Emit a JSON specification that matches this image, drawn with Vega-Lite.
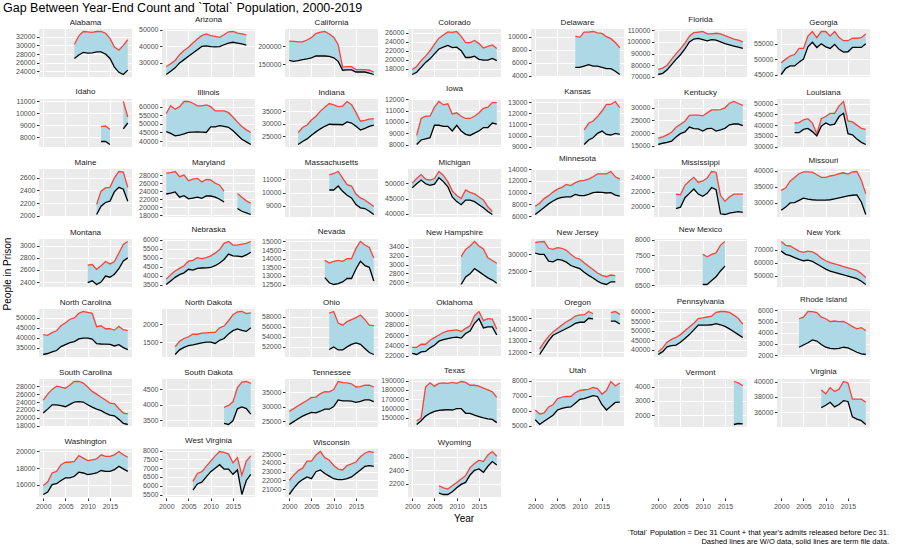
{
"$schema": "https://vega.github.io/schema/vega-lite/v6.json",
"padding": {"left": 3, "top": 2, "right": 3, "bottom": 2},
"background": "white",
"title": {"text": "Gap Between Year-End Count and `Total` Population, 2000-2019", "anchor": "start", "fontSize": 12.5, "fontWeight": "normal", "font": "Liberation Sans", "color": "#000000", "offset": 1},
"config": {
  "font": "Liberation Sans",
  "view": {"fill": "#EBEBEB", "stroke": null},
  "axis": {"labelFontSize": 7, "labelColor": "#4D4D4D", "tickColor": "#333333", "tickSize": 2.5, "domain": false, "gridColor": "#FFFFFF", "gridWidth": 1, "labelFont": "Liberation Sans", "labelPadding": 1.5}
},
"data": {"values": [
{"s":"Alabama","y":2007,"t":30200,"c":27000},{"s":"Alabama","y":2008,"t":32200,"c":27800},{"s":"Alabama","y":2009,"t":33200,"c":28400},{"s":"Alabama","y":2010,"t":33100,"c":28200},{"s":"Alabama","y":2011,"t":33000,"c":28300},{"s":"Alabama","y":2012,"t":33200,"c":28500},{"s":"Alabama","y":2013,"t":33200,"c":28500},{"s":"Alabama","y":2014,"t":32800,"c":28000},{"s":"Alabama","y":2015,"t":31600,"c":27000},{"s":"Alabama","y":2016,"t":29600,"c":25000},{"s":"Alabama","y":2017,"t":28900,"c":23800},{"s":"Alabama","y":2018,"t":30000,"c":23300},{"s":"Alabama","y":2019,"t":31300,"c":24300},
{"s":"Arizona","y":2000,"t":27800,"c":23000},{"s":"Arizona","y":2001,"t":29500,"c":25000},{"s":"Arizona","y":2002,"t":31500,"c":27000},{"s":"Arizona","y":2003,"t":35000,"c":30000},{"s":"Arizona","y":2004,"t":37500,"c":32000},{"s":"Arizona","y":2005,"t":39500,"c":34000},{"s":"Arizona","y":2006,"t":42000,"c":36000},{"s":"Arizona","y":2007,"t":44500,"c":38000},{"s":"Arizona","y":2008,"t":46500,"c":40000},{"s":"Arizona","y":2009,"t":47500,"c":40300},{"s":"Arizona","y":2010,"t":46500,"c":39800},{"s":"Arizona","y":2011,"t":46000,"c":39700},{"s":"Arizona","y":2012,"t":45500,"c":39800},{"s":"Arizona","y":2013,"t":47000,"c":41000},{"s":"Arizona","y":2014,"t":48800,"c":42000},{"s":"Arizona","y":2015,"t":49000,"c":42500},{"s":"Arizona","y":2016,"t":48000,"c":42000},{"s":"Arizona","y":2017,"t":47500,"c":41500},{"s":"Arizona","y":2018,"t":47000,"c":40800},
{"s":"California","y":2000,"t":215000,"c":161000},{"s":"California","y":2001,"t":214000,"c":158000},{"s":"California","y":2002,"t":213000,"c":160000},{"s":"California","y":2003,"t":213000,"c":163000},{"s":"California","y":2004,"t":218000,"c":165000},{"s":"California","y":2005,"t":225000,"c":168000},{"s":"California","y":2006,"t":236000,"c":173000},{"s":"California","y":2007,"t":240000,"c":173000},{"s":"California","y":2008,"t":242000,"c":173000},{"s":"California","y":2009,"t":235000,"c":172000},{"s":"California","y":2010,"t":226000,"c":168000},{"s":"California","y":2011,"t":205000,"c":158000},{"s":"California","y":2012,"t":142000,"c":133000},{"s":"California","y":2013,"t":143000,"c":134000},{"s":"California","y":2014,"t":143000,"c":134000},{"s":"California","y":2015,"t":135000,"c":128000},{"s":"California","y":2016,"t":135000,"c":128000},{"s":"California","y":2017,"t":135000,"c":128000},{"s":"California","y":2018,"t":133000,"c":125000},{"s":"California","y":2019,"t":128000,"c":121000},
{"s":"Colorado","y":2000,"t":17800,"c":16700},{"s":"Colorado","y":2001,"t":18500,"c":17200},{"s":"Colorado","y":2002,"t":19800,"c":18300},{"s":"Colorado","y":2003,"t":20800,"c":19400},{"s":"Colorado","y":2004,"t":22000,"c":20200},{"s":"Colorado","y":2005,"t":23500,"c":21300},{"s":"Colorado","y":2006,"t":24800,"c":22400},{"s":"Colorado","y":2007,"t":25500,"c":22800},{"s":"Colorado","y":2008,"t":26200,"c":23200},{"s":"Colorado","y":2009,"t":26100,"c":22700},{"s":"Colorado","y":2010,"t":26300,"c":22800},{"s":"Colorado","y":2011,"t":25200,"c":22000},{"s":"Colorado","y":2012,"t":23800,"c":20500},{"s":"Colorado","y":2013,"t":23800,"c":20500},{"s":"Colorado","y":2014,"t":24300,"c":20800},{"s":"Colorado","y":2015,"t":23600,"c":20100},{"s":"Colorado","y":2016,"t":22600,"c":19900},{"s":"Colorado","y":2017,"t":23000,"c":19900},{"s":"Colorado","y":2018,"t":23300,"c":20300},{"s":"Colorado","y":2019,"t":22500,"c":19800},
{"s":"Delaware","y":2009,"t":10100,"c":5300},{"s":"Delaware","y":2010,"t":9900,"c":5300},{"s":"Delaware","y":2011,"t":10700,"c":5500},{"s":"Delaware","y":2012,"t":10700,"c":5700},{"s":"Delaware","y":2013,"t":10800,"c":5500},{"s":"Delaware","y":2014,"t":10600,"c":5500},{"s":"Delaware","y":2015,"t":10500,"c":5300},{"s":"Delaware","y":2016,"t":10000,"c":5100},{"s":"Delaware","y":2017,"t":9700,"c":5100},{"s":"Delaware","y":2018,"t":9100,"c":4700},{"s":"Delaware","y":2019,"t":8300,"c":4200},
{"s":"Florida","y":2000,"t":76500,"c":72000},{"s":"Florida","y":2001,"t":77500,"c":73000},{"s":"Florida","y":2002,"t":80000,"c":76000},{"s":"Florida","y":2003,"t":85000,"c":80500},{"s":"Florida","y":2004,"t":90000,"c":85000},{"s":"Florida","y":2005,"t":94000,"c":89000},{"s":"Florida","y":2006,"t":99000,"c":94000},{"s":"Florida","y":2007,"t":105000,"c":100000},{"s":"Florida","y":2008,"t":108000,"c":102500},{"s":"Florida","y":2009,"t":108500,"c":103000},{"s":"Florida","y":2010,"t":109000,"c":102000},{"s":"Florida","y":2011,"t":107000,"c":101000},{"s":"Florida","y":2012,"t":107000,"c":102000},{"s":"Florida","y":2013,"t":107500,"c":101500},{"s":"Florida","y":2014,"t":107000,"c":100000},{"s":"Florida","y":2015,"t":105500,"c":98500},{"s":"Florida","y":2016,"t":104000,"c":97500},{"s":"Florida","y":2017,"t":102500,"c":96500},{"s":"Florida","y":2018,"t":101500,"c":95500},{"s":"Florida","y":2019,"t":100000,"c":94500},
{"s":"Georgia","y":2000,"t":48800,"c":45000},{"s":"Georgia","y":2001,"t":50000,"c":47000},{"s":"Georgia","y":2002,"t":51000,"c":47800},{"s":"Georgia","y":2003,"t":51500,"c":47800},{"s":"Georgia","y":2004,"t":53500,"c":49000},{"s":"Georgia","y":2005,"t":53500,"c":50000},{"s":"Georgia","y":2006,"t":57500,"c":54000},{"s":"Georgia","y":2007,"t":59000,"c":55500},{"s":"Georgia","y":2008,"t":57000,"c":53800},{"s":"Georgia","y":2009,"t":59000,"c":55000},{"s":"Georgia","y":2010,"t":59000,"c":54000},{"s":"Georgia","y":2011,"t":57500,"c":53500},{"s":"Georgia","y":2012,"t":59000,"c":54800},{"s":"Georgia","y":2013,"t":57000,"c":53200},{"s":"Georgia","y":2014,"t":56000,"c":52300},{"s":"Georgia","y":2015,"t":56000,"c":52400},{"s":"Georgia","y":2016,"t":56800,"c":53800},{"s":"Georgia","y":2017,"t":56800,"c":53800},{"s":"Georgia","y":2018,"t":57000,"c":53800},{"s":"Georgia","y":2019,"t":58200,"c":55000},
{"s":"Idaho","y":2013,"t":8900,"c":7650},{"s":"Idaho","y":2014,"t":8950,"c":7650},{"s":"Idaho","y":2015,"t":8650,"c":7400},{"s":"Idaho","y":2016,"t":null,"c":null},{"s":"Idaho","y":2017,"t":null,"c":null},{"s":"Idaho","y":2018,"t":11000,"c":8700},{"s":"Idaho","y":2019,"t":9700,"c":9200},
{"s":"Illinois","y":2000,"t":56000,"c":45500},{"s":"Illinois","y":2001,"t":60500,"c":44500},{"s":"Illinois","y":2002,"t":58500,"c":43000},{"s":"Illinois","y":2003,"t":60000,"c":43500},{"s":"Illinois","y":2004,"t":63000,"c":44200},{"s":"Illinois","y":2005,"t":63000,"c":45000},{"s":"Illinois","y":2006,"t":62000,"c":45200},{"s":"Illinois","y":2007,"t":60500,"c":45300},{"s":"Illinois","y":2008,"t":60500,"c":45200},{"s":"Illinois","y":2009,"t":61000,"c":45000},{"s":"Illinois","y":2010,"t":60000,"c":48200},{"s":"Illinois","y":2011,"t":57500,"c":48300},{"s":"Illinois","y":2012,"t":57500,"c":49000},{"s":"Illinois","y":2013,"t":57500,"c":48500},{"s":"Illinois","y":2014,"t":56500,"c":48000},{"s":"Illinois","y":2015,"t":54000,"c":46000},{"s":"Illinois","y":2016,"t":51000,"c":43500},{"s":"Illinois","y":2017,"t":48500,"c":41000},{"s":"Illinois","y":2018,"t":46500,"c":39500},{"s":"Illinois","y":2019,"t":45000,"c":38000},
{"s":"Indiana","y":2002,"t":26500,"c":21800},{"s":"Indiana","y":2003,"t":28500,"c":23000},{"s":"Indiana","y":2004,"t":29500,"c":24000},{"s":"Indiana","y":2005,"t":31500,"c":25500},{"s":"Indiana","y":2006,"t":33000,"c":26800},{"s":"Indiana","y":2007,"t":35000,"c":28000},{"s":"Indiana","y":2008,"t":36500,"c":29000},{"s":"Indiana","y":2009,"t":38000,"c":29800},{"s":"Indiana","y":2010,"t":37500,"c":29700},{"s":"Indiana","y":2011,"t":36800,"c":29700},{"s":"Indiana","y":2012,"t":37000,"c":29600},{"s":"Indiana","y":2013,"t":38800,"c":30700},{"s":"Indiana","y":2014,"t":37500,"c":30300},{"s":"Indiana","y":2015,"t":34500,"c":29000},{"s":"Indiana","y":2016,"t":31000,"c":27500},{"s":"Indiana","y":2017,"t":31300,"c":28200},{"s":"Indiana","y":2018,"t":31800,"c":29000},{"s":"Indiana","y":2019,"t":32000,"c":29500},
{"s":"Iowa","y":2001,"t":8800,"c":8000},{"s":"Iowa","y":2002,"t":10300,"c":8400},{"s":"Iowa","y":2003,"t":10500,"c":8500},{"s":"Iowa","y":2004,"t":10500,"c":8600},{"s":"Iowa","y":2005,"t":11300,"c":9700},{"s":"Iowa","y":2006,"t":11800,"c":9700},{"s":"Iowa","y":2007,"t":11500,"c":9600},{"s":"Iowa","y":2008,"t":11600,"c":9600},{"s":"Iowa","y":2009,"t":10700,"c":9200},{"s":"Iowa","y":2010,"t":10800,"c":9700},{"s":"Iowa","y":2011,"t":10500,"c":9200},{"s":"Iowa","y":2012,"t":10300,"c":8900},{"s":"Iowa","y":2013,"t":10300,"c":8800},{"s":"Iowa","y":2014,"t":10500,"c":9000},{"s":"Iowa","y":2015,"t":10800,"c":9200},{"s":"Iowa","y":2016,"t":11200,"c":9500},{"s":"Iowa","y":2017,"t":11300,"c":9500},{"s":"Iowa","y":2018,"t":11700,"c":9900},{"s":"Iowa","y":2019,"t":11700,"c":9800},
{"s":"Kansas","y":2011,"t":10500,"c":9200},{"s":"Kansas","y":2012,"t":11100,"c":9600},{"s":"Kansas","y":2013,"t":11300,"c":9800},{"s":"Kansas","y":2014,"t":11700,"c":10200},{"s":"Kansas","y":2015,"t":12200,"c":10400},{"s":"Kansas","y":2016,"t":12800,"c":10100},{"s":"Kansas","y":2017,"t":12800,"c":10050},{"s":"Kansas","y":2018,"t":13050,"c":10200},{"s":"Kansas","y":2019,"t":12500,"c":10100},
{"s":"Kentucky","y":2000,"t":18000,"c":15500},{"s":"Kentucky","y":2001,"t":18500,"c":16000},{"s":"Kentucky","y":2002,"t":19300,"c":16300},{"s":"Kentucky","y":2003,"t":20300,"c":16800},{"s":"Kentucky","y":2004,"t":22300,"c":18500},{"s":"Kentucky","y":2005,"t":23500,"c":19800},{"s":"Kentucky","y":2006,"t":24700,"c":20500},{"s":"Kentucky","y":2007,"t":27000,"c":22400},{"s":"Kentucky","y":2008,"t":27100,"c":21800},{"s":"Kentucky","y":2009,"t":27100,"c":21700},{"s":"Kentucky","y":2010,"t":26800,"c":20800},{"s":"Kentucky","y":2011,"t":28000,"c":21800},{"s":"Kentucky","y":2012,"t":29200,"c":21900},{"s":"Kentucky","y":2013,"t":29200,"c":20800},{"s":"Kentucky","y":2014,"t":29300,"c":21300},{"s":"Kentucky","y":2015,"t":30000,"c":21900},{"s":"Kentucky","y":2016,"t":31800,"c":23300},{"s":"Kentucky","y":2017,"t":32500,"c":23600},{"s":"Kentucky","y":2018,"t":31700,"c":23600},{"s":"Kentucky","y":2019,"t":31000,"c":23000},
{"s":"Louisiana","y":2003,"t":41000,"c":36500},{"s":"Louisiana","y":2004,"t":41200,"c":36500},{"s":"Louisiana","y":2005,"t":42500,"c":38000},{"s":"Louisiana","y":2006,"t":43000,"c":38500},{"s":"Louisiana","y":2007,"t":41000,"c":37000},{"s":"Louisiana","y":2008,"t":36000,"c":35000},{"s":"Louisiana","y":2009,"t":43000,"c":39500},{"s":"Louisiana","y":2010,"t":44000,"c":41000},{"s":"Louisiana","y":2011,"t":45500,"c":40000},{"s":"Louisiana","y":2012,"t":45500,"c":40500},{"s":"Louisiana","y":2013,"t":49000,"c":44000},{"s":"Louisiana","y":2014,"t":51000,"c":45500},{"s":"Louisiana","y":2015,"t":42000,"c":36000},{"s":"Louisiana","y":2016,"t":41500,"c":35500},{"s":"Louisiana","y":2017,"t":40000,"c":33500},{"s":"Louisiana","y":2018,"t":38500,"c":32000},{"s":"Louisiana","y":2019,"t":38000,"c":31000},
{"s":"Maine","y":2012,"t":2180,"c":2020},{"s":"Maine","y":2013,"t":2390,"c":2150},{"s":"Maine","y":2014,"t":2440,"c":2210},{"s":"Maine","y":2015,"t":2450,"c":2230},{"s":"Maine","y":2016,"t":2600,"c":2380},{"s":"Maine","y":2017,"t":2700,"c":2450},{"s":"Maine","y":2018,"t":2690,"c":2420},{"s":"Maine","y":2019,"t":2450,"c":2230},
{"s":"Maryland","y":2000,"t":28500,"c":23300},{"s":"Maryland","y":2001,"t":28600,"c":23500},{"s":"Maryland","y":2002,"t":28900,"c":23800},{"s":"Maryland","y":2003,"t":27600,"c":22500},{"s":"Maryland","y":2004,"t":28000,"c":22900},{"s":"Maryland","y":2005,"t":26600,"c":22100},{"s":"Maryland","y":2006,"t":27000,"c":22300},{"s":"Maryland","y":2007,"t":27200,"c":22500},{"s":"Maryland","y":2008,"t":26300,"c":22200},{"s":"Maryland","y":2009,"t":26900,"c":22800},{"s":"Maryland","y":2010,"t":26800,"c":22800},{"s":"Maryland","y":2011,"t":26000,"c":22500},{"s":"Maryland","y":2012,"t":25500,"c":22000},{"s":"Maryland","y":2013,"t":24000,"c":21300},{"s":"Maryland","y":2014,"t":null,"c":null},{"s":"Maryland","y":2015,"t":null,"c":null},{"s":"Maryland","y":2016,"t":23400,"c":19700},{"s":"Maryland","y":2017,"t":22500,"c":19000},{"s":"Maryland","y":2018,"t":21600,"c":18600},{"s":"Maryland","y":2019,"t":21000,"c":18200},
{"s":"Massachusetts","y":2009,"t":11350,"c":10200},{"s":"Massachusetts","y":2010,"t":11450,"c":10200},{"s":"Massachusetts","y":2011,"t":11600,"c":10500},{"s":"Massachusetts","y":2012,"t":11100,"c":10100},{"s":"Massachusetts","y":2013,"t":10600,"c":9800},{"s":"Massachusetts","y":2014,"t":10500,"c":9600},{"s":"Massachusetts","y":2015,"t":9900,"c":9100},{"s":"Massachusetts","y":2016,"t":9600,"c":8850},{"s":"Massachusetts","y":2017,"t":9450,"c":8800},{"s":"Massachusetts","y":2018,"t":9200,"c":8600},{"s":"Massachusetts","y":2019,"t":8950,"c":8350},
{"s":"Michigan","y":2000,"t":50000,"c":48500},{"s":"Michigan","y":2001,"t":51500,"c":49800},{"s":"Michigan","y":2002,"t":52800,"c":51000},{"s":"Michigan","y":2003,"t":51300,"c":49800},{"s":"Michigan","y":2004,"t":51000,"c":49300},{"s":"Michigan","y":2005,"t":51500,"c":49700},{"s":"Michigan","y":2006,"t":53800,"c":51800},{"s":"Michigan","y":2007,"t":52500,"c":50500},{"s":"Michigan","y":2008,"t":50500,"c":48800},{"s":"Michigan","y":2009,"t":47500,"c":45500},{"s":"Michigan","y":2010,"t":46000,"c":44000},{"s":"Michigan","y":2011,"t":45000,"c":43000},{"s":"Michigan","y":2012,"t":47800,"c":44500},{"s":"Michigan","y":2013,"t":47000,"c":44500},{"s":"Michigan","y":2014,"t":46500,"c":44000},{"s":"Michigan","y":2015,"t":45500,"c":43000},{"s":"Michigan","y":2016,"t":44500,"c":42000},{"s":"Michigan","y":2017,"t":42300,"c":40800},{"s":"Michigan","y":2018,"t":40800,"c":39800},
{"s":"Minnesota","y":2000,"t":7700,"c":6300},{"s":"Minnesota","y":2001,"t":8200,"c":6900},{"s":"Minnesota","y":2002,"t":9000,"c":7500},{"s":"Minnesota","y":2003,"t":9500,"c":8100},{"s":"Minnesota","y":2004,"t":10100,"c":8600},{"s":"Minnesota","y":2005,"t":10600,"c":9000},{"s":"Minnesota","y":2006,"t":10900,"c":9200},{"s":"Minnesota","y":2007,"t":11400,"c":9300},{"s":"Minnesota","y":2008,"t":11200,"c":9300},{"s":"Minnesota","y":2009,"t":11700,"c":9700},{"s":"Minnesota","y":2010,"t":12000,"c":9500},{"s":"Minnesota","y":2011,"t":12100,"c":9500},{"s":"Minnesota","y":2012,"t":12300,"c":9700},{"s":"Minnesota","y":2013,"t":12700,"c":10000},{"s":"Minnesota","y":2014,"t":13200,"c":10100},{"s":"Minnesota","y":2015,"t":13200,"c":10050},{"s":"Minnesota","y":2016,"t":13200,"c":9950},{"s":"Minnesota","y":2017,"t":13600,"c":10000},{"s":"Minnesota","y":2018,"t":12700,"c":9600},{"s":"Minnesota","y":2019,"t":12300,"c":9400},
{"s":"Mississippi","y":2004,"t":21700,"c":19700},{"s":"Mississippi","y":2005,"t":21600,"c":19900},{"s":"Mississippi","y":2006,"t":22900,"c":21200},{"s":"Mississippi","y":2007,"t":23500,"c":21800},{"s":"Mississippi","y":2008,"t":24000,"c":22400},{"s":"Mississippi","y":2009,"t":23300,"c":21700},{"s":"Mississippi","y":2010,"t":23500,"c":21400},{"s":"Mississippi","y":2011,"t":23900,"c":21800},{"s":"Mississippi","y":2012,"t":24800,"c":22600},{"s":"Mississippi","y":2013,"t":24700,"c":22300},{"s":"Mississippi","y":2014,"t":21500,"c":19000},{"s":"Mississippi","y":2015,"t":20700,"c":18900},{"s":"Mississippi","y":2016,"t":21300,"c":19100},{"s":"Mississippi","y":2017,"t":21700,"c":19200},{"s":"Mississippi","y":2018,"t":21700,"c":19300},{"s":"Mississippi","y":2019,"t":21700,"c":19200},
{"s":"Missouri","y":2000,"t":33800,"c":27600},{"s":"Missouri","y":2001,"t":34600,"c":28600},{"s":"Missouri","y":2002,"t":36700,"c":29900},{"s":"Missouri","y":2003,"t":37800,"c":30000},{"s":"Missouri","y":2004,"t":39000,"c":30700},{"s":"Missouri","y":2005,"t":39600,"c":31400},{"s":"Missouri","y":2006,"t":39600,"c":31100},{"s":"Missouri","y":2007,"t":39500,"c":30900},{"s":"Missouri","y":2008,"t":38700,"c":30800},{"s":"Missouri","y":2009,"t":37900,"c":30800},{"s":"Missouri","y":2010,"t":37900,"c":30800},{"s":"Missouri","y":2011,"t":38300,"c":30900},{"s":"Missouri","y":2012,"t":38600,"c":31200},{"s":"Missouri","y":2013,"t":39000,"c":31500},{"s":"Missouri","y":2014,"t":39300,"c":31800},{"s":"Missouri","y":2015,"t":38900,"c":32100},{"s":"Missouri","y":2016,"t":39600,"c":32300},{"s":"Missouri","y":2017,"t":39700,"c":32400},{"s":"Missouri","y":2018,"t":37000,"c":30200},{"s":"Missouri","y":2019,"t":32800,"c":26300},
{"s":"Montana","y":2010,"t":2680,"c":2390},{"s":"Montana","y":2011,"t":2690,"c":2420},{"s":"Montana","y":2012,"t":2610,"c":2360},{"s":"Montana","y":2013,"t":2670,"c":2400},{"s":"Montana","y":2014,"t":2740,"c":2500},{"s":"Montana","y":2015,"t":2700,"c":2480},{"s":"Montana","y":2016,"t":2740,"c":2530},{"s":"Montana","y":2017,"t":2880,"c":2620},{"s":"Montana","y":2018,"t":3020,"c":2750},{"s":"Montana","y":2019,"t":3070,"c":2800},
{"s":"Nebraska","y":2000,"t":3800,"c":3500},{"s":"Nebraska","y":2001,"t":4050,"c":3700},{"s":"Nebraska","y":2002,"t":4250,"c":3900},{"s":"Nebraska","y":2003,"t":4400,"c":4050},{"s":"Nebraska","y":2004,"t":4550,"c":4150},{"s":"Nebraska","y":2005,"t":4800,"c":4350},{"s":"Nebraska","y":2006,"t":4850,"c":4300},{"s":"Nebraska","y":2007,"t":5000,"c":4400},{"s":"Nebraska","y":2008,"t":4950,"c":4420},{"s":"Nebraska","y":2009,"t":5000,"c":4430},{"s":"Nebraska","y":2010,"t":5100,"c":4450},{"s":"Nebraska","y":2011,"t":5250,"c":4550},{"s":"Nebraska","y":2012,"t":5450,"c":4700},{"s":"Nebraska","y":2013,"t":5800,"c":4900},{"s":"Nebraska","y":2014,"t":5900,"c":5200},{"s":"Nebraska","y":2015,"t":5700,"c":5100},{"s":"Nebraska","y":2016,"t":5700,"c":5080},{"s":"Nebraska","y":2017,"t":5750,"c":5050},{"s":"Nebraska","y":2018,"t":5800,"c":5150},{"s":"Nebraska","y":2019,"t":5900,"c":5300},
{"s":"Nevada","y":2008,"t":13900,"c":12900},{"s":"Nevada","y":2009,"t":13750,"c":12600},{"s":"Nevada","y":2010,"t":13850,"c":12500},{"s":"Nevada","y":2011,"t":13900,"c":12550},{"s":"Nevada","y":2012,"t":13850,"c":12650},{"s":"Nevada","y":2013,"t":14000,"c":12850},{"s":"Nevada","y":2014,"t":14000,"c":12850},{"s":"Nevada","y":2015,"t":14600,"c":13400},{"s":"Nevada","y":2016,"t":15000,"c":13850},{"s":"Nevada","y":2017,"t":14800,"c":13600},{"s":"Nevada","y":2018,"t":14650,"c":13500},{"s":"Nevada","y":2019,"t":14050,"c":12700},
{"s":"New Hampshire","y":2011,"t":3180,"c":2550},{"s":"New Hampshire","y":2012,"t":3340,"c":2720},{"s":"New Hampshire","y":2013,"t":3420,"c":2790},{"s":"New Hampshire","y":2014,"t":3520,"c":2910},{"s":"New Hampshire","y":2015,"t":3420,"c":2840},{"s":"New Hampshire","y":2016,"t":3350,"c":2770},{"s":"New Hampshire","y":2017,"t":3150,"c":2700},{"s":"New Hampshire","y":2018,"t":3090,"c":2650},{"s":"New Hampshire","y":2019,"t":3030,"c":2580},
{"s":"New Jersey","y":2000,"t":33500,"c":30400},{"s":"New Jersey","y":2001,"t":33700,"c":30000},{"s":"New Jersey","y":2002,"t":33800,"c":30000},{"s":"New Jersey","y":2003,"t":31800,"c":28000},{"s":"New Jersey","y":2004,"t":31500,"c":27800},{"s":"New Jersey","y":2005,"t":32000,"c":28500},{"s":"New Jersey","y":2006,"t":31800,"c":28300},{"s":"New Jersey","y":2007,"t":31200,"c":27700},{"s":"New Jersey","y":2008,"t":30000,"c":26700},{"s":"New Jersey","y":2009,"t":29000,"c":26200},{"s":"New Jersey","y":2010,"t":28600,"c":25800},{"s":"New Jersey","y":2011,"t":27500,"c":24700},{"s":"New Jersey","y":2012,"t":26500,"c":23800},{"s":"New Jersey","y":2013,"t":25500,"c":23000},{"s":"New Jersey","y":2014,"t":24500,"c":22100},{"s":"New Jersey","y":2015,"t":23800,"c":21400},{"s":"New Jersey","y":2016,"t":23400,"c":21100},{"s":"New Jersey","y":2017,"t":23900,"c":21900},{"s":"New Jersey","y":2018,"t":23700,"c":21900},
{"s":"New Mexico","y":2010,"t":7530,"c":6520},{"s":"New Mexico","y":2011,"t":7440,"c":6520},{"s":"New Mexico","y":2012,"t":7520,"c":6650},{"s":"New Mexico","y":2013,"t":7570,"c":6780},{"s":"New Mexico","y":2014,"t":7830,"c":6970},{"s":"New Mexico","y":2015,"t":7950,"c":7130},
{"s":"New York","y":2000,"t":76500,"c":69000},{"s":"New York","y":2001,"t":73500,"c":66500},{"s":"New York","y":2002,"t":73000,"c":65500},{"s":"New York","y":2003,"t":71000,"c":64000},{"s":"New York","y":2004,"t":69000,"c":62500},{"s":"New York","y":2005,"t":68000,"c":61500},{"s":"New York","y":2006,"t":69000,"c":62000},{"s":"New York","y":2007,"t":68500,"c":61000},{"s":"New York","y":2008,"t":66500,"c":59000},{"s":"New York","y":2009,"t":63500,"c":57000},{"s":"New York","y":2010,"t":61500,"c":55000},{"s":"New York","y":2011,"t":60000,"c":53500},{"s":"New York","y":2012,"t":59000,"c":52500},{"s":"New York","y":2013,"t":58000,"c":51500},{"s":"New York","y":2014,"t":57000,"c":50500},{"s":"New York","y":2015,"t":56000,"c":49500},{"s":"New York","y":2016,"t":55000,"c":48500},{"s":"New York","y":2017,"t":54000,"c":47500},{"s":"New York","y":2018,"t":51500,"c":45500},{"s":"New York","y":2019,"t":48500,"c":43000},
{"s":"North Carolina","y":2000,"t":41500,"c":31500},{"s":"North Carolina","y":2001,"t":41200,"c":32000},{"s":"North Carolina","y":2002,"t":42500,"c":32800},{"s":"North Carolina","y":2003,"t":43500,"c":33500},{"s":"North Carolina","y":2004,"t":46000,"c":35500},{"s":"North Carolina","y":2005,"t":47500,"c":36500},{"s":"North Carolina","y":2006,"t":49300,"c":37500},{"s":"North Carolina","y":2007,"t":50000,"c":38000},{"s":"North Carolina","y":2008,"t":52300,"c":39400},{"s":"North Carolina","y":2009,"t":53200,"c":39800},{"s":"North Carolina","y":2010,"t":52800,"c":39800},{"s":"North Carolina","y":2011,"t":52300,"c":39300},{"s":"North Carolina","y":2012,"t":45500,"c":37000},{"s":"North Carolina","y":2013,"t":46000,"c":36800},{"s":"North Carolina","y":2014,"t":44500,"c":36700},{"s":"North Carolina","y":2015,"t":44500,"c":36600},{"s":"North Carolina","y":2016,"t":43800,"c":35800},{"s":"North Carolina","y":2017,"t":45700,"c":36500},{"s":"North Carolina","y":2018,"t":44000,"c":35000},{"s":"North Carolina","y":2019,"t":43600,"c":34000},
{"s":"North Dakota","y":2002,"t":1370,"c":1150},{"s":"North Dakota","y":2003,"t":1520,"c":1280},{"s":"North Dakota","y":2004,"t":1600,"c":1350},{"s":"North Dakota","y":2005,"t":1650,"c":1400},{"s":"North Dakota","y":2006,"t":1720,"c":1420},{"s":"North Dakota","y":2007,"t":1720,"c":1450},{"s":"North Dakota","y":2008,"t":1750,"c":1480},{"s":"North Dakota","y":2009,"t":1760,"c":1500},{"s":"North Dakota","y":2010,"t":1770,"c":1500},{"s":"North Dakota","y":2011,"t":1770,"c":1460},{"s":"North Dakota","y":2012,"t":1900,"c":1550},{"s":"North Dakota","y":2013,"t":1950,"c":1600},{"s":"North Dakota","y":2014,"t":2100,"c":1730},{"s":"North Dakota","y":2015,"t":2270,"c":1820},{"s":"North Dakota","y":2016,"t":2350,"c":1870},{"s":"North Dakota","y":2017,"t":2360,"c":1830},{"s":"North Dakota","y":2018,"t":2300,"c":1800},{"s":"North Dakota","y":2019,"t":2320,"c":1900},
{"s":"Ohio","y":2009,"t":58700,"c":51500},{"s":"Ohio","y":2010,"t":59000,"c":52000},{"s":"Ohio","y":2011,"t":56700,"c":51400},{"s":"Ohio","y":2012,"t":56300,"c":51400},{"s":"Ohio","y":2013,"t":57000,"c":52000},{"s":"Ohio","y":2014,"t":57400,"c":52500},{"s":"Ohio","y":2015,"t":57800,"c":52800},{"s":"Ohio","y":2016,"t":58300,"c":52500},{"s":"Ohio","y":2017,"t":57400,"c":51700},{"s":"Ohio","y":2018,"t":56300,"c":50900},{"s":"Ohio","y":2019,"t":56200,"c":50500},
{"s":"Oklahoma","y":2000,"t":23600,"c":22400},{"s":"Oklahoma","y":2001,"t":23600,"c":22200},{"s":"Oklahoma","y":2002,"t":24200,"c":22700},{"s":"Oklahoma","y":2003,"t":24200,"c":22800},{"s":"Oklahoma","y":2004,"t":25000,"c":23500},{"s":"Oklahoma","y":2005,"t":25500,"c":24000},{"s":"Oklahoma","y":2006,"t":26000,"c":24800},{"s":"Oklahoma","y":2007,"t":26500,"c":25100},{"s":"Oklahoma","y":2008,"t":26800,"c":25300},{"s":"Oklahoma","y":2009,"t":26900,"c":25500},{"s":"Oklahoma","y":2010,"t":27000,"c":25600},{"s":"Oklahoma","y":2011,"t":26700,"c":25400},{"s":"Oklahoma","y":2012,"t":27300,"c":26300},{"s":"Oklahoma","y":2013,"t":27800,"c":26800},{"s":"Oklahoma","y":2014,"t":29800,"c":28300},{"s":"Oklahoma","y":2015,"t":30600,"c":29200},{"s":"Oklahoma","y":2016,"t":28800,"c":27400},{"s":"Oklahoma","y":2017,"t":29200,"c":27600},{"s":"Oklahoma","y":2018,"t":29100,"c":27600},{"s":"Oklahoma","y":2019,"t":27200,"c":26000},
{"s":"Oregon","y":2001,"t":12300,"c":11800},{"s":"Oregon","y":2002,"t":12900,"c":12400},{"s":"Oregon","y":2003,"t":13400,"c":13000},{"s":"Oregon","y":2004,"t":13800,"c":13500},{"s":"Oregon","y":2005,"t":14100,"c":13700},{"s":"Oregon","y":2006,"t":14400,"c":13900},{"s":"Oregon","y":2007,"t":14700,"c":14100},{"s":"Oregon","y":2008,"t":14900,"c":14300},{"s":"Oregon","y":2009,"t":15200,"c":14550},{"s":"Oregon","y":2010,"t":15300,"c":14650},{"s":"Oregon","y":2011,"t":15300,"c":14650},{"s":"Oregon","y":2012,"t":15600,"c":15000},{"s":"Oregon","y":2013,"t":15400,"c":14950},{"s":"Oregon","y":2014,"t":null,"c":null},{"s":"Oregon","y":2015,"t":null,"c":null},{"s":"Oregon","y":2016,"t":null,"c":null},{"s":"Oregon","y":2017,"t":15500,"c":14750},{"s":"Oregon","y":2018,"t":15600,"c":14750},{"s":"Oregon","y":2019,"t":15350,"c":14500},
{"s":"Pennsylvania","y":2000,"t":39000,"c":37500},{"s":"Pennsylvania","y":2001,"t":41000,"c":39000},{"s":"Pennsylvania","y":2002,"t":44000,"c":41500},{"s":"Pennsylvania","y":2003,"t":45500,"c":42200},{"s":"Pennsylvania","y":2004,"t":46500,"c":42500},{"s":"Pennsylvania","y":2005,"t":48000,"c":44000},{"s":"Pennsylvania","y":2006,"t":50000,"c":46000},{"s":"Pennsylvania","y":2007,"t":52000,"c":48000},{"s":"Pennsylvania","y":2008,"t":54000,"c":50500},{"s":"Pennsylvania","y":2009,"t":56500,"c":53000},{"s":"Pennsylvania","y":2010,"t":56800,"c":53000},{"s":"Pennsylvania","y":2011,"t":57300,"c":53000},{"s":"Pennsylvania","y":2012,"t":57800,"c":53200},{"s":"Pennsylvania","y":2013,"t":59800,"c":53800},{"s":"Pennsylvania","y":2014,"t":60200,"c":53200},{"s":"Pennsylvania","y":2015,"t":60200,"c":52300},{"s":"Pennsylvania","y":2016,"t":59700,"c":51000},{"s":"Pennsylvania","y":2017,"t":58300,"c":49500},{"s":"Pennsylvania","y":2018,"t":56500,"c":48000},{"s":"Pennsylvania","y":2019,"t":53500,"c":46500},
{"s":"Rhode Island","y":2004,"t":5250,"c":2700},{"s":"Rhode Island","y":2005,"t":5400,"c":2900},{"s":"Rhode Island","y":2006,"t":5900,"c":3100},{"s":"Rhode Island","y":2007,"t":5880,"c":3350},{"s":"Rhode Island","y":2008,"t":5800,"c":3250},{"s":"Rhode Island","y":2009,"t":5400,"c":2950},{"s":"Rhode Island","y":2010,"t":5250,"c":2700},{"s":"Rhode Island","y":2011,"t":5000,"c":2600},{"s":"Rhode Island","y":2012,"t":5050,"c":2550},{"s":"Rhode Island","y":2013,"t":5000,"c":2600},{"s":"Rhode Island","y":2014,"t":5020,"c":2700},{"s":"Rhode Island","y":2015,"t":4800,"c":2650},{"s":"Rhode Island","y":2016,"t":4550,"c":2450},{"s":"Rhode Island","y":2017,"t":4350,"c":2250},{"s":"Rhode Island","y":2018,"t":4450,"c":2100},{"s":"Rhode Island","y":2019,"t":4200,"c":2050},
{"s":"South Carolina","y":2000,"t":24500,"c":21200},{"s":"South Carolina","y":2001,"t":26000,"c":22200},{"s":"South Carolina","y":2002,"t":27200,"c":23300},{"s":"South Carolina","y":2003,"t":28000,"c":23300},{"s":"South Carolina","y":2004,"t":27800,"c":23100},{"s":"South Carolina","y":2005,"t":27500,"c":22800},{"s":"South Carolina","y":2006,"t":28300,"c":23400},{"s":"South Carolina","y":2007,"t":29200,"c":24000},{"s":"South Carolina","y":2008,"t":29200,"c":24100},{"s":"South Carolina","y":2009,"t":28800,"c":24000},{"s":"South Carolina","y":2010,"t":27800,"c":23300},{"s":"South Carolina","y":2011,"t":26700,"c":22700},{"s":"South Carolina","y":2012,"t":26000,"c":22200},{"s":"South Carolina","y":2013,"t":25200,"c":21800},{"s":"South Carolina","y":2014,"t":24500,"c":21200},{"s":"South Carolina","y":2015,"t":23700,"c":20700},{"s":"South Carolina","y":2016,"t":23600,"c":20500},{"s":"South Carolina","y":2017,"t":22300,"c":19600},{"s":"South Carolina","y":2018,"t":21200,"c":18600},{"s":"South Carolina","y":2019,"t":21000,"c":18300},
{"s":"South Dakota","y":2013,"t":3920,"c":3400},{"s":"South Dakota","y":2014,"t":3980,"c":3360},{"s":"South Dakota","y":2015,"t":4100,"c":3480},{"s":"South Dakota","y":2016,"t":4560,"c":3870},{"s":"South Dakota","y":2017,"t":4740,"c":3930},{"s":"South Dakota","y":2018,"t":4760,"c":3880},{"s":"South Dakota","y":2019,"t":4700,"c":3700},
{"s":"Tennessee","y":2000,"t":28300,"c":23800},{"s":"Tennessee","y":2001,"t":29300,"c":24800},{"s":"Tennessee","y":2002,"t":30300,"c":25800},{"s":"Tennessee","y":2003,"t":31200,"c":26700},{"s":"Tennessee","y":2004,"t":32100,"c":27400},{"s":"Tennessee","y":2005,"t":33200,"c":28000},{"s":"Tennessee","y":2006,"t":33300,"c":27800},{"s":"Tennessee","y":2007,"t":34500,"c":28400},{"s":"Tennessee","y":2008,"t":35200,"c":29100},{"s":"Tennessee","y":2009,"t":35100,"c":29100},{"s":"Tennessee","y":2010,"t":35900,"c":30000},{"s":"Tennessee","y":2011,"t":38700,"c":32300},{"s":"Tennessee","y":2012,"t":38300,"c":32000},{"s":"Tennessee","y":2013,"t":38200,"c":32000},{"s":"Tennessee","y":2014,"t":37900,"c":31900},{"s":"Tennessee","y":2015,"t":36800,"c":31500},{"s":"Tennessee","y":2016,"t":36900,"c":31800},{"s":"Tennessee","y":2017,"t":37400,"c":32300},{"s":"Tennessee","y":2018,"t":37400,"c":32300},{"s":"Tennessee","y":2019,"t":36800,"c":31700},
{"s":"Texas","y":2001,"t":147000,"c":143000},{"s":"Texas","y":2002,"t":150000,"c":147000},{"s":"Texas","y":2003,"t":183000,"c":152000},{"s":"Texas","y":2004,"t":187500,"c":155000},{"s":"Texas","y":2005,"t":184000,"c":157000},{"s":"Texas","y":2006,"t":187000,"c":158000},{"s":"Texas","y":2007,"t":187500,"c":158500},{"s":"Texas","y":2008,"t":187000,"c":159000},{"s":"Texas","y":2009,"t":188000,"c":158500},{"s":"Texas","y":2010,"t":187000,"c":160000},{"s":"Texas","y":2011,"t":189000,"c":160000},{"s":"Texas","y":2012,"t":188000,"c":155000},{"s":"Texas","y":2013,"t":185000,"c":155000},{"s":"Texas","y":2014,"t":185000,"c":153000},{"s":"Texas","y":2015,"t":184000,"c":151500},{"s":"Texas","y":2016,"t":182000,"c":150000},{"s":"Texas","y":2017,"t":180000,"c":149000},{"s":"Texas","y":2018,"t":178000,"c":148500},{"s":"Texas","y":2019,"t":172000,"c":145000},
{"s":"Utah","y":2000,"t":6050,"c":5400},{"s":"Utah","y":2001,"t":5780,"c":5080},{"s":"Utah","y":2002,"t":5850,"c":5300},{"s":"Utah","y":2003,"t":6250,"c":5500},{"s":"Utah","y":2004,"t":6400,"c":5700},{"s":"Utah","y":2005,"t":6800,"c":6050},{"s":"Utah","y":2006,"t":6900,"c":6150},{"s":"Utah","y":2007,"t":6950,"c":6220},{"s":"Utah","y":2008,"t":6950,"c":6250},{"s":"Utah","y":2009,"t":7200,"c":6500},{"s":"Utah","y":2010,"t":7350,"c":6750},{"s":"Utah","y":2011,"t":7400,"c":6800},{"s":"Utah","y":2012,"t":7420,"c":6900},{"s":"Utah","y":2013,"t":7550,"c":7000},{"s":"Utah","y":2014,"t":7480,"c":6950},{"s":"Utah","y":2015,"t":7100,"c":6400},{"s":"Utah","y":2016,"t":7350,"c":6050},{"s":"Utah","y":2017,"t":7950,"c":6300},{"s":"Utah","y":2018,"t":7650,"c":6550},{"s":"Utah","y":2019,"t":7850,"c":6580},
{"s":"Vermont","y":2017,"t":4350,"c":1350},{"s":"Vermont","y":2018,"t":4250,"c":1420},{"s":"Vermont","y":2019,"t":4050,"c":1400},
{"s":"Virginia","y":2009,"t":38900,"c":36600},{"s":"Virginia","y":2010,"t":38400,"c":36900},{"s":"Virginia","y":2011,"t":39200,"c":37300},{"s":"Virginia","y":2012,"t":38700,"c":36700},{"s":"Virginia","y":2013,"t":39000,"c":37000},{"s":"Virginia","y":2014,"t":40000,"c":37500},{"s":"Virginia","y":2015,"t":39800,"c":37400},{"s":"Virginia","y":2016,"t":37700,"c":35400},{"s":"Virginia","y":2017,"t":37700,"c":35100},{"s":"Virginia","y":2018,"t":37700,"c":34900},{"s":"Virginia","y":2019,"t":37300,"c":34400},
{"s":"Washington","y":2000,"t":15900,"c":14800},{"s":"Washington","y":2001,"t":16300,"c":15100},{"s":"Washington","y":2002,"t":17400,"c":16000},{"s":"Washington","y":2003,"t":17600,"c":16100},{"s":"Washington","y":2004,"t":18400,"c":16500},{"s":"Washington","y":2005,"t":18700,"c":16800},{"s":"Washington","y":2006,"t":18700,"c":16800},{"s":"Washington","y":2007,"t":18800,"c":17000},{"s":"Washington","y":2008,"t":19500,"c":17500},{"s":"Washington","y":2009,"t":19200,"c":17400},{"s":"Washington","y":2010,"t":18900,"c":17200},{"s":"Washington","y":2011,"t":19000,"c":17300},{"s":"Washington","y":2012,"t":19100,"c":17400},{"s":"Washington","y":2013,"t":19600,"c":17700},{"s":"Washington","y":2014,"t":19400,"c":17600},{"s":"Washington","y":2015,"t":19400,"c":17600},{"s":"Washington","y":2016,"t":19600,"c":17800},{"s":"Washington","y":2017,"t":20000,"c":18200},{"s":"Washington","y":2018,"t":19600,"c":17900},{"s":"Washington","y":2019,"t":19300,"c":17600},
{"s":"West Virginia","y":2006,"t":6250,"c":5750},{"s":"West Virginia","y":2007,"t":6700,"c":6100},{"s":"West Virginia","y":2008,"t":6800,"c":6200},{"s":"West Virginia","y":2009,"t":7100,"c":6500},{"s":"West Virginia","y":2010,"t":7400,"c":6800},{"s":"West Virginia","y":2011,"t":7700,"c":7000},{"s":"West Virginia","y":2012,"t":7950,"c":7200},{"s":"West Virginia","y":2013,"t":7900,"c":6950},{"s":"West Virginia","y":2014,"t":7800,"c":6950},{"s":"West Virginia","y":2015,"t":7300,"c":6650},{"s":"West Virginia","y":2016,"t":7600,"c":6900},{"s":"West Virginia","y":2017,"t":6600,"c":5500},{"s":"West Virginia","y":2018,"t":7400,"c":6300},{"s":"West Virginia","y":2019,"t":7700,"c":6650},
{"s":"Wisconsin","y":2000,"t":22000,"c":20400},{"s":"Wisconsin","y":2001,"t":22600,"c":21100},{"s":"Wisconsin","y":2002,"t":23100,"c":21700},{"s":"Wisconsin","y":2003,"t":23400,"c":22100},{"s":"Wisconsin","y":2004,"t":24200,"c":22400},{"s":"Wisconsin","y":2005,"t":24200,"c":22200},{"s":"Wisconsin","y":2006,"t":24900,"c":23000},{"s":"Wisconsin","y":2007,"t":25300,"c":23200},{"s":"Wisconsin","y":2008,"t":24600,"c":22800},{"s":"Wisconsin","y":2009,"t":24300,"c":22500},{"s":"Wisconsin","y":2010,"t":23700,"c":22200},{"s":"Wisconsin","y":2011,"t":23300,"c":22100},{"s":"Wisconsin","y":2012,"t":23200,"c":22100},{"s":"Wisconsin","y":2013,"t":23700,"c":22200},{"s":"Wisconsin","y":2014,"t":23900,"c":22400},{"s":"Wisconsin","y":2015,"t":24100,"c":22800},{"s":"Wisconsin","y":2016,"t":24700,"c":23200},{"s":"Wisconsin","y":2017,"t":25100,"c":23600},{"s":"Wisconsin","y":2018,"t":25300,"c":23700},{"s":"Wisconsin","y":2019,"t":25200,"c":23600},
{"s":"Wyoming","y":2006,"t":2170,"c":2060},{"s":"Wyoming","y":2007,"t":2140,"c":2040},{"s":"Wyoming","y":2008,"t":2120,"c":2040},{"s":"Wyoming","y":2009,"t":2170,"c":2080},{"s":"Wyoming","y":2010,"t":2220,"c":2140},{"s":"Wyoming","y":2011,"t":2270,"c":2190},{"s":"Wyoming","y":2012,"t":2320,"c":2220},{"s":"Wyoming","y":2013,"t":2440,"c":2330},{"s":"Wyoming","y":2014,"t":2500,"c":2400},{"s":"Wyoming","y":2015,"t":2550,"c":2420},{"s":"Wyoming","y":2016,"t":2530,"c":2370},{"s":"Wyoming","y":2017,"t":2630,"c":2460},{"s":"Wyoming","y":2018,"t":2680,"c":2530},{"s":"Wyoming","y":2019,"t":2610,"c":2480}
]},
"hconcat": [
  {
    "data": {"values": [{"label": "People in Prison"}]},
    "width": 8, "height": 490,
    "view": {"fill": null, "stroke": null},
    "mark": {"type": "text", "angle": 270, "fontSize": 10, "color": "#000000", "font": "Liberation Sans"},
    "encoding": {"text": {"field": "label", "type": "nominal"}}
  },
  {
    "vconcat": [
      {
        "facet": {"field": "s", "type": "nominal", "header": {"title": null, "labelFontSize": 8, "labelColor": "#1A1A1A", "labelPadding": 2, "labelFont": "Liberation Sans"}},
        "columns": 7,
        "align": "all",
        "spacing": {"row": 5, "column": 2},
        "spec": {
          "width": 93, "height": 48,
          "encoding": {"x": {"field": "y", "type": "quantitative", "scale": {"domain": [1999.05, 2019.95], "nice": false, "zero": false}, "axis": {"title": null, "values": [2000, 2005, 2010, 2015], "format": "d"}}},
          "layer": [
            {"mark": {"type": "area", "color": "#ADD8E6", "opacity": 1, "invalid": "break-paths-show-domains"},
             "encoding": {"y": {"field": "c", "type": "quantitative", "scale": {"zero": false, "nice": false, "padding": 2.5}, "axis": {"title": null, "tickCount": 4, "format": "d"}}, "y2": {"field": "t"}}},
            {"mark": {"type": "line", "color": "#F8433A", "strokeWidth": 1.3, "invalid": "break-paths-show-domains"},
             "encoding": {"y": {"field": "t", "type": "quantitative"}}},
            {"mark": {"type": "line", "color": "#000000", "strokeWidth": 1.3, "invalid": "break-paths-show-domains"},
             "encoding": {"y": {"field": "c", "type": "quantitative"}}}
          ]
        },
        "resolve": {"scale": {"y": "independent"}}
      },
      {
        "data": {"values": [{"label": "Year"}]},
        "width": 850, "height": 11,
        "view": {"fill": null, "stroke": null},
        "mark": {"type": "text", "fontSize": 10, "color": "#000000", "font": "Liberation Sans"},
        "encoding": {"text": {"field": "label", "type": "nominal"}},
        "title": {"text": ["`Total` Population = Dec 31 Count + that year's admits released before Dec 31.", "Dashed lines are W/O data, solid lines are term file data."], "orient": "bottom", "anchor": "end", "align": "right", "frame": "group", "fontSize": 7.5, "fontWeight": "normal", "color": "#000000", "font": "Liberation Sans", "offset": 5, "lineHeight": 9}
      }
    ],
    "spacing": 4
  }
],
"spacing": 2
}
